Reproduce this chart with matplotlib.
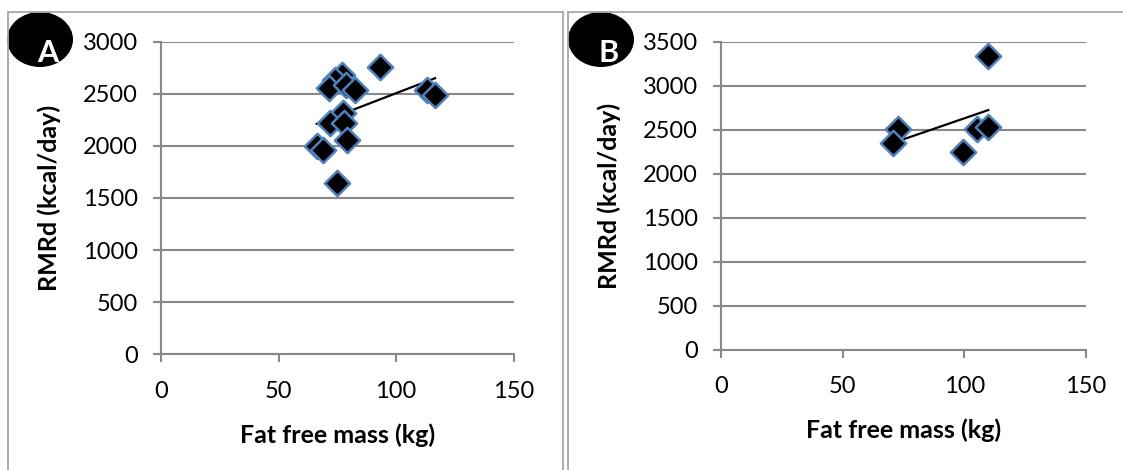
import numpy as np
import matplotlib
matplotlib.use("Agg")
import matplotlib.pyplot as plt
from matplotlib.patches import Ellipse
from matplotlib.lines import Line2D

plt.rcParams['font.family'] = ['Lato', 'DejaVu Sans']

# panel A: fat free mass (kg) vs RMRd (kcal/day)
ffm_a = [93.1, 76.8, 74.0, 71.6, 78.7, 82.5, 113.0, 116.6, 77.3, 71.8, 77.9, 79.0, 66.2, 69.0, 74.7]
rmr_a = [2754, 2680, 2632, 2553, 2585, 2537, 2537, 2489, 2313, 2217, 2217, 2057, 1999, 1961, 1645]

# panel B
ffm_b = [109.8, 72.8, 70.8, 99.5, 105.3, 109.8]
rmr_b = [3337, 2504, 2345, 2250, 2504, 2534]

W, H = 1123, 470
fig = plt.figure(figsize=(W / 100, H / 100), dpi=100)

grid_col = '#888888'
edge_col = '#4f81bd'


def px_axes(left, top, right, bottom):
    return fig.add_axes([left / W, 1 - bottom / H, (right - left) / W, (bottom - top) / H])


def panel(ax, x, y, ymax, letter, cx, ylab_x, xlab_y):
    ax.set_xlim(0, 150)
    ax.set_ylim(0, ymax)
    ax.set_xticks(np.arange(0, 151, 50))
    ax.set_yticks(np.arange(0, ymax + 1, 500))
    for s in ['top', 'right']:
        ax.spines[s].set_visible(False)
    for s in ['left', 'bottom']:
        ax.spines[s].set_color(grid_col)
        ax.spines[s].set_linewidth(1.5)
    ax.grid(axis='y', color=grid_col, linewidth=1.5)
    ax.set_axisbelow(True)
    ax.tick_params(length=6, width=1.5, color=grid_col, labelsize=17)
    ax.tick_params(axis='x', pad=13)
    ax.tick_params(axis='y', pad=11)
    # linear trend line over the data range
    k, b = np.polyfit(x, y, 1)
    xs = np.array([min(x), max(x)])
    ax.plot(xs, k * xs + b, color='black', linewidth=1.6, zorder=2)
    ax.scatter(x, y, marker='D', s=165, facecolor='black', edgecolor=edge_col,
               linewidth=1.8, zorder=3, clip_on=False)
    ax.set_xlabel('Fat free mass (kg)', fontsize=18, fontweight='bold')
    ax.set_ylabel('RMRd (kcal/day)', fontsize=18, fontweight='bold')
    ax.yaxis.set_label_coords(ylab_x, 0.5)
    ax.xaxis.set_label_coords(0.5, xlab_y)
    # circled panel letter
    fig.add_artist(Ellipse((cx / W, 1 - 39.5 / H), 66 / W, 55 / H,
                           transform=fig.transFigure, facecolor='black', edgecolor='none'))
    fig.text((cx + 8) / W, 1 - 53 / H, letter, color='white', fontsize=22,
             fontweight='bold', ha='center', va='center')


ax_a = px_axes(161.3, 41.7, 513.5, 354.3)
panel(ax_a, ffm_a, rmr_a, 3000, 'A', 40, -0.285, -0.22)
ax_b = px_axes(721.3, 41.7, 1086, 349.7)
panel(ax_b, ffm_b, rmr_b, 3500, 'B', 601, -0.276, -0.224)

# panel frames
frame_col = '#a6a6a6'
for xs, ys in [([8, 8], [12, H]), ([8, 563], [12, 12]), ([563, 563], [12, H]),
               ([568, 568], [12, H]), ([568, W], [12, 12])]:
    fig.add_artist(Line2D([v / W for v in xs], [1 - v / H for v in ys],
                          transform=fig.transFigure, color=frame_col, linewidth=1.3))

fig.savefig('out.png', dpi=100)
